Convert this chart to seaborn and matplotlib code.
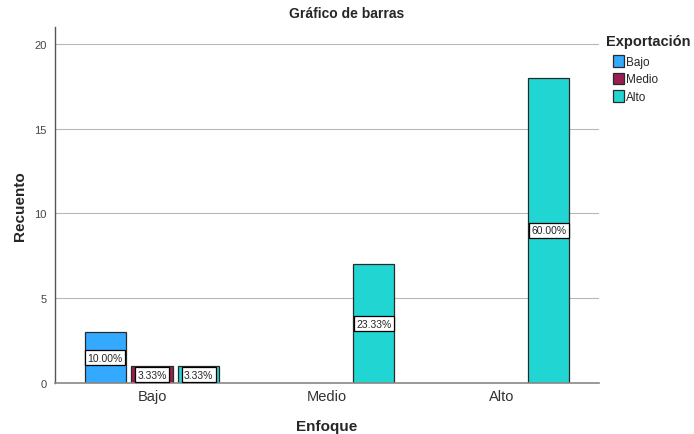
import pandas as pd
import matplotlib
matplotlib.use("Agg")
import matplotlib.pyplot as plt
import seaborn as sns

# Data
enfoque = ["Bajo", "Bajo", "Bajo", "Medio", "Alto"]
exportacion = ["Bajo", "Medio", "Alto", "Alto", "Alto"]
recuento = [3, 1, 1, 7, 18]
niveles = ["Bajo", "Medio", "Alto"]
colores = ["#33aaff", "#991f4f", "#21d5d3"]

df = pd.DataFrame({"Enfoque": enfoque, "Exportación": exportacion, "Recuento": recuento})
total = sum(recuento)

sns.set_style("white")
plt.rcParams["font.family"] = ["Liberation Sans", "DejaVu Sans"]

fig = plt.figure(figsize=(6.94, 4.35), dpi=100)
ax = fig.add_axes([0.0793, 0.1172, 0.7838, 0.8184])

sns.barplot(data=df, x="Enfoque", y="Recuento", hue="Exportación",
            order=niveles, hue_order=niveles, palette=colores, saturation=1,
            gap=0.12, edgecolor="#2a2a2a", linewidth=0.9, ax=ax)

# percentage labels in the middle of each bar
for cont in ax.containers:
    labels = [f"{b.get_height() / total * 100:.2f}%" for b in cont]
    ax.bar_label(cont, labels=labels, label_type="center", fontsize=7.5,
                 bbox=dict(boxstyle="square,pad=0.22", fc="white", ec="black", lw=0.9))

ax.set_xlim(-0.554, 2.554)
ax.set_ylim(0, 21)
ax.set_yticks([0, 5, 10, 15, 20])
ax.yaxis.grid(True, color="#b8b8b8", linewidth=0.8)
ax.set_axisbelow(True)
ax.tick_params(axis="y", labelsize=8, labelcolor="#444444", length=0, pad=6)
ax.tick_params(axis="x", labelsize=10.5, labelcolor="#333333", length=0, pad=4)

for s in ["top", "right"]:
    ax.spines[s].set_visible(False)
ax.spines["left"].set_color("#555555")
ax.spines["bottom"].set_color("#888888")
ax.spines["left"].set_linewidth(1.0)
ax.spines["bottom"].set_linewidth(1.2)

ax.set_xlabel("Enfoque", fontsize=11, fontweight="bold", labelpad=12)
ax.set_ylabel("Recuento", fontsize=11, fontweight="bold", labelpad=5)
fig.text(0.5, 0.968, "Gráfico de barras", ha="center", va="center",
         fontsize=10, fontweight="bold")

# legend: bold title with indented entries below it
fig.text(606 / 694, 1 - 42 / 435, "Exportación", ha="left", va="center",
         fontsize=10.5, fontweight="bold")
ax.legend(loc="upper left", bbox_to_anchor=(613 / 694, 1 - 56 / 435),
          bbox_transform=fig.transFigure, frameon=False, fontsize=8.5,
          handlelength=0.95, handleheight=1.15, handletextpad=0.15,
          labelspacing=0.4, borderaxespad=0, borderpad=0)

fig.savefig("out.png", dpi=100)
